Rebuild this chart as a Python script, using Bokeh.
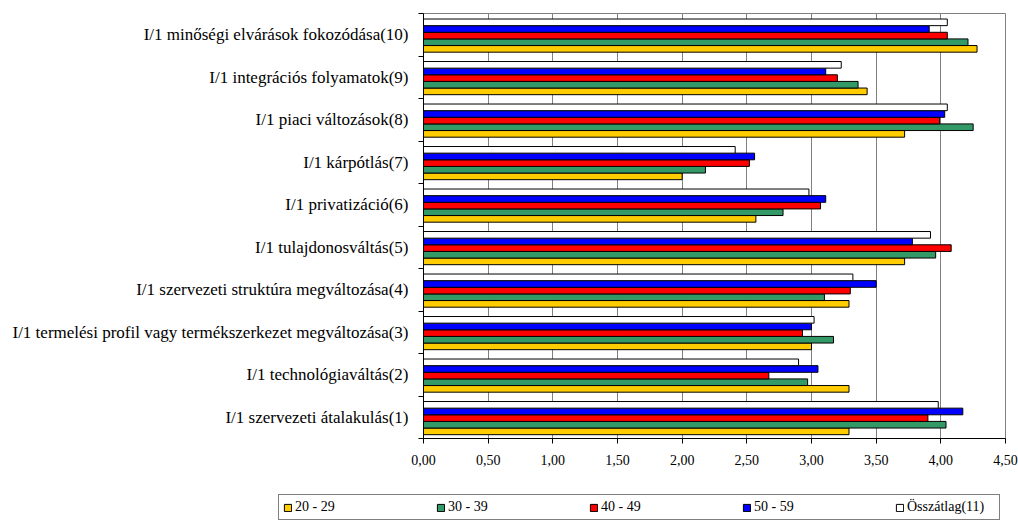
from bokeh.plotting import figure
from bokeh.layouts import column
from bokeh.models import (Range1d, FixedTicker, CustomJSTickFormatter, Legend, LegendItem,
                          ColumnDataSource)
from bokeh.transform import dodge
from bokeh.embed import file_html
from bokeh.resources import INLINE
import numpy as np

categories = [
    "I/1 szervezeti átalakulás(1)",
    "I/1 technológiaváltás(2)",
    "I/1 termelési profil vagy termékszerkezet megváltozása(3)",
    "I/1 szervezeti struktúra megváltozása(4)",
    "I/1 tulajdonosváltás(5)",
    "I/1 privatizáció(6)",
    "I/1 kárpótlás(7)",
    "I/1 piaci változások(8)",
    "I/1 integrációs folyamatok(9)",
    "I/1 minőségi elvárások fokozódása(10)",
]
age_20_29 = [3.29, 3.29, 3.00, 3.29, 3.72, 2.57, 2.00, 3.72, 3.43, 4.28]
age_30_39 = [4.04, 2.97, 3.17, 3.10, 3.96, 2.78, 2.18, 4.25, 3.36, 4.21]
age_40_49 = [3.90, 2.67, 2.93, 3.30, 4.08, 3.07, 2.52, 3.99, 3.20, 4.05]
age_50_59 = [4.17, 3.05, 3.00, 3.50, 3.78, 3.11, 2.56, 4.03, 3.11, 3.91]
osszatlag = [3.98, 2.90, 3.02, 3.32, 3.92, 2.98, 2.41, 4.05, 3.23, 4.05]
series_labels = ["20 - 29", "30 - 39", "40 - 49", "50 - 59", "Összátlag(11)"]
x_ticks = [0, 0.5, 1.0, 1.5, 2.0, 2.5, 3.0, 3.5, 4.0, 4.5]

colors = ["#FFCC00", "#339966", "#FF0000", "#0000FF", "#FFFFFF"]
FONT = "Liberation Serif"

src = ColumnDataSource(dict(
    y=list(np.arange(len(categories)) + 0.48),
    s0=age_20_29, s1=age_30_39, s2=age_40_49, s3=age_50_59, s4=osszatlag,
))

p = figure(width=1018, height=490, output_backend="svg", toolbar_location=None,
           x_range=Range1d(0, 4.5), y_range=Range1d(0, len(categories)),
           min_border_left=423, min_border_right=13, min_border_top=13, min_border_bottom=52)
p.outline_line_color = "#808080"
p.outline_line_width = 1

h = 0.156
offsets = [-2 * h, -h, 0, h, 2 * h]
for i, (col, off) in enumerate(zip(colors, offsets)):
    p.hbar(y=dodge("y", off), right="s%d" % i, left=0, height=h, source=src,
           fill_color=col, line_color="black", line_width=1)

# x axis
p.xaxis.ticker = FixedTicker(ticks=x_ticks)
p.xaxis.formatter = CustomJSTickFormatter(code="return tick.toFixed(2).replace('.', ',');")
p.xaxis.axis_line_color = "black"
p.xaxis.major_tick_line_color = "black"
p.xaxis.major_tick_out = 5
p.xaxis.major_tick_in = 0
p.xaxis.minor_tick_line_color = None
p.xaxis.major_label_standoff = 11
p.xaxis.major_label_text_font = FONT
p.xaxis.major_label_text_font_size = "14px"
p.xaxis.major_label_text_color = "black"

# y axis
p.yaxis.ticker = FixedTicker(ticks=[i + 0.5 for i in range(len(categories))],
                             minor_ticks=list(range(len(categories) + 1)))
p.yaxis.formatter = CustomJSTickFormatter(args=dict(labels=categories),
                                          code="return labels[Math.round(tick - 0.5)];")
p.yaxis.axis_line_color = "black"
p.yaxis.major_tick_line_color = None
p.yaxis.major_tick_out = 0
p.yaxis.major_tick_in = 0
p.yaxis.minor_tick_line_color = "black"
p.yaxis.minor_tick_out = 5
p.yaxis.minor_tick_in = 0
p.yaxis.major_label_standoff = 10
p.yaxis.major_label_text_font = FONT
p.yaxis.major_label_text_font_size = "17px"
p.yaxis.major_label_text_color = "black"

p.xgrid.grid_line_color = "#808080"
p.ygrid.visible = False

# legend strip
lf = figure(width=1018, height=33, output_backend="svg", toolbar_location=None,
            x_range=Range1d(0, 1), y_range=Range1d(0, 1),
            min_border_left=0, min_border_right=0, min_border_top=0, min_border_bottom=0)
lf.axis.visible = False
lf.grid.visible = False
lf.outline_line_color = None
lrs = []
for col in colors:
    lrs.append(lf.hbar(y=[-5], right=[-5], left=-6, height=0.1, fill_color=col,
                       line_color="black", line_width=1))

legend = Legend(items=[LegendItem(label=lab, renderers=[r]) for lab, r in zip(series_labels, lrs)],
                orientation="horizontal", location=(278, 3))
legend.border_line_color = "black"
legend.border_line_width = 1
legend.background_fill_color = "white"
legend.background_fill_alpha = 1
legend.glyph_width = 9
legend.glyph_height = 9
legend.label_standoff = 3
legend.label_width = 88
legend.spacing = 53
legend.padding = 4
legend.margin = 0
legend.label_text_font = FONT
legend.label_text_font_size = "14px"
legend.label_text_color = "black"
lf.add_layout(legend)

open("out.html", "w").write(file_html(column(p, column(lf), spacing=0), INLINE))
